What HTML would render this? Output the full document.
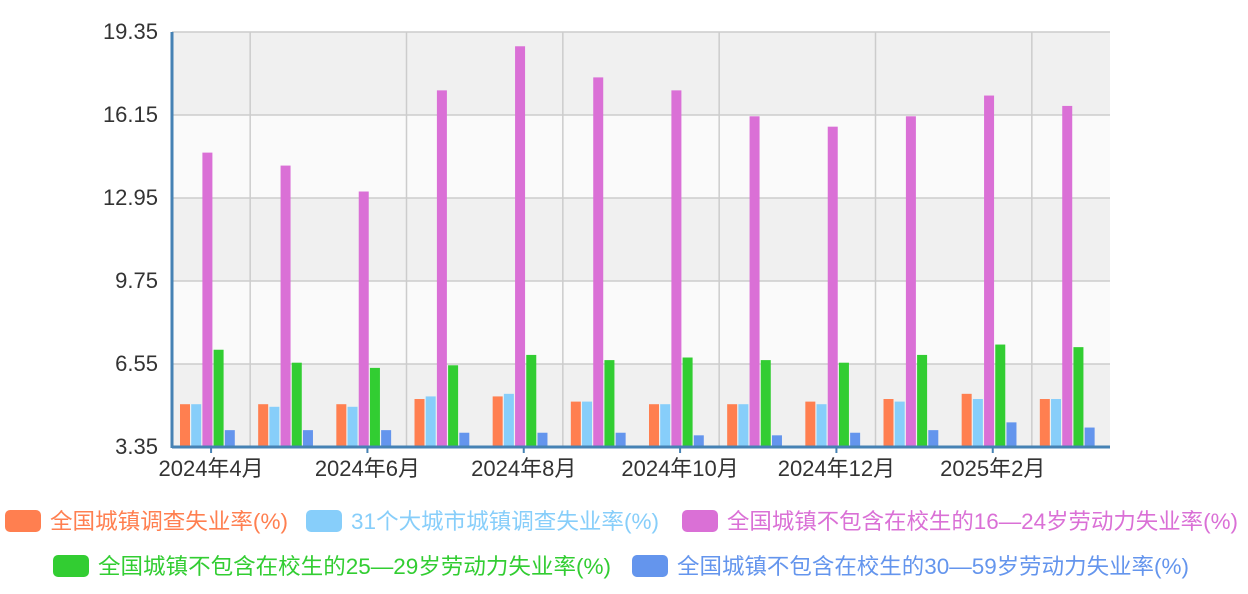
<!DOCTYPE html>
<html><head><meta charset="utf-8"><style>
body{margin:0;background:#fff;font-family:"Liberation Sans","Noto Sans CJK SC",sans-serif;}
svg text{font-family:"Liberation Sans","Noto Sans CJK SC",sans-serif;}
</style></head><body>
<svg id="chart" width="1248" height="589" xmlns="http://www.w3.org/2000/svg"></svg>
<script>
const categories=["2024年4月","2024年5月","2024年6月","2024年7月","2024年8月","2024年9月","2024年10月","2024年11月","2024年12月","2025年1月","2025年2月","2025年3月"];
const seriesNames=["全国城镇调查失业率(%)","31个大城市城镇调查失业率(%)","全国城镇不包含在校生的16—24岁劳动力失业率(%)","全国城镇不包含在校生的25—29岁劳动力失业率(%)","全国城镇不包含在校生的30—59岁劳动力失业率(%)"];
const national=[5.0,5.0,5.0,5.2,5.3,5.1,5.0,5.0,5.1,5.2,5.4,5.2];
const cities31=[5.0,4.9,4.9,5.3,5.4,5.1,5.0,5.0,5.0,5.1,5.2,5.2];
const age16to24=[14.7,14.2,13.2,17.1,18.8,17.6,17.1,16.1,15.7,16.1,16.9,16.5];
const age25to29=[7.1,6.6,6.4,6.5,6.9,6.7,6.8,6.7,6.6,6.9,7.3,7.2];
const age30to59=[4.0,4.0,4.0,3.9,3.9,3.9,3.8,3.8,3.9,4.0,4.3,4.1];
const yTicks=[3.35,6.55,9.75,12.95,16.15,19.35];
const seriesData=[national,cities31,age16to24,age25to29,age30to59];
const colors=["#ff7f50","#87cefa","#da70d6","#32cd32","#6495ed"];
const NS="http://www.w3.org/2000/svg";
const svg=document.getElementById("chart");
const L=172,R=1110,T=32,B=447,yMin=3.35,yMax=19.35;
const cw=(R-L)/categories.length;
const y=v=>B-(v-yMin)/(yMax-yMin)*(B-T);
const xc=i=>L+cw*i;
function mk(tag,attrs,parent){const e=document.createElementNS(NS,tag);for(const k in attrs)e.setAttribute(k,attrs[k]);(parent||svg).appendChild(e);return e;}
for(let i=0;i<yTicks.length-1;i++){
  const r=mk("rect",{x:L,y:y(yTicks[i+1]),width:R-L,height:y(yTicks[i])-y(yTicks[i+1]),fill:i%2===0?"#f0f0f0":"#fafafa"});
  
  
}
yTicks.forEach(t=>{
  const l=mk("line",{x1:L,x2:R,y1:y(t),y2:y(t),stroke:"#ccc","stroke-width":1.5});
  
  
  const tx=mk("text",{x:158,y:y(t)+7,"text-anchor":"end","font-size":22,fill:"#333"});
  tx.textContent=t.toFixed(2);
  
  
});
for(let i=1;i<=categories.length;i+=2){
  const l=mk("line",{x1:xc(i),x2:xc(i),y1:T,y2:B,stroke:"#ccc","stroke-width":1.5});
  
  
}
const bw=10,step=11.2,off=8;
seriesData.forEach((arr,s)=>{
  arr.forEach((v,i)=>{
    const r=mk("rect",{x:xc(i)+off+s*step,y:y(v),width:bw,height:B-y(v),fill:colors[s]});
    
    
  });
});
const ax=mk("line",{x1:L,x2:L,y1:T,y2:B+1,stroke:"#4682b4","stroke-width":3});


const bx=mk("line",{x1:L,x2:R,y1:B,y2:B,stroke:"#4682b4","stroke-width":3});


categories.forEach((c,i)=>{
  if(i%2)return;
  const tk=mk("line",{x1:xc(i)+cw/2,x2:xc(i)+cw/2,y1:B,y2:B+6,stroke:"#4682b4","stroke-width":2});
  
  
  const t=mk("text",{x:xc(i)+cw/2,y:B+29,"text-anchor":"middle","font-size":22,fill:"#333"});
  t.textContent=c;
  
  
});
const legPos=[[5,521,238],[306,521,308],[682,521,511],[53,566,513],[632,566,512]];
seriesNames.forEach((n,s)=>{
  const g=mk("g",{});
  
  
  mk("rect",{x:legPos[s][0],y:legPos[s][1]-11,width:36,height:22,rx:5,fill:colors[s]},g);
  const t=mk("text",{x:legPos[s][0]+45,y:legPos[s][1]+8,"font-size":22,fill:colors[s],textLength:legPos[s][2],lengthAdjust:"spacingAndGlyphs"},g);
  t.textContent=n;
});
</script>
</body></html>
